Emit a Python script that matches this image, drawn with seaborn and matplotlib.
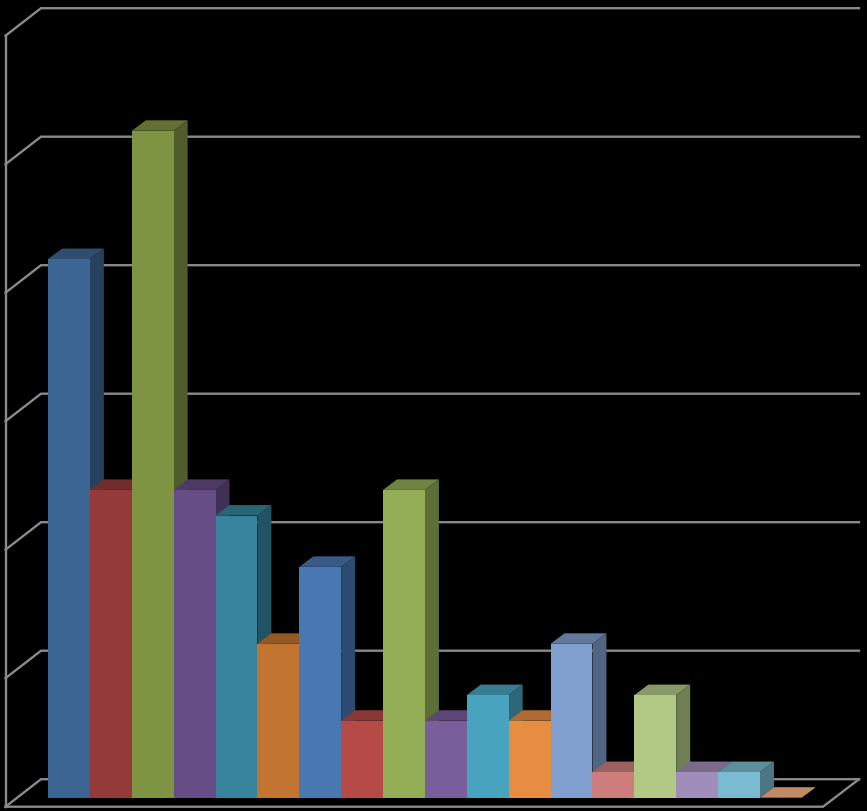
"""3D-look column chart on a black background, drawn with seaborn bars."""

import matplotlib.pyplot as plt
from matplotlib.colors import to_rgb
from matplotlib.patches import Polygon
import numpy as np
import seaborn as sns

categories = [f'c{i + 1}' for i in range(18)]
values = [21, 12, 26, 12, 11, 6, 9, 3, 12, 3, 4, 3, 6, 1, 4, 1, 1, 0]
bar_colors = ['#3c6594', '#953a3a', '#7f9443', '#664d85', '#37849c', '#c27530',
              '#4877b2', '#b64a47', '#93ae56', '#785e9b', '#48a3be', '#e68d41',
              '#809fcf', '#cd7e7c', '#b2c986', '#a08db9', '#7bbbd1', '#f0ad7d']
wall_levels = [0, 5, 10, 15, 20, 25, 30]

# pixel scale of the chart
PX_X = 41.88
PX_Y = 25.65
BASE_X = 48.0
BASE_Y = 797.7

# depth of a bar, depth of the walls
BAR_DX = 14 / PX_X
BAR_DY = 10.5 / PX_Y
WALL_LEFT = (5.5 - BASE_X) / PX_X - 0.5
WALL_BACK = (41 - BASE_X) / PX_X - 0.5
WALL_RIGHT = (859 - BASE_X) / PX_X - 0.5
FLOOR_RIGHT = (823 - BASE_X) / PX_X - 0.5
FRONT_OFFSET = -9 / PX_Y
BACK_OFFSET = 18.5 / PX_Y
WALL_STRETCH = 128.5 / (5 * PX_Y)
LINE_COLOR = '#8a8a8a'
LINE_WIDTH = 1.7

fig = plt.figure(figsize=(8.67, 8.11), dpi=100, facecolor='black')
ax = fig.add_axes([0, 0, 1, 1])
ax.set_facecolor('black')

sns.barplot(x=categories, y=values, hue=categories, palette=bar_colors,
            width=1, saturation=1, legend=False, linewidth=0, ax=ax)

# walls and floor
for level in wall_levels:
    wall_y = level * WALL_STRETCH
    ax.plot([WALL_LEFT, WALL_BACK, WALL_RIGHT],
            [wall_y + FRONT_OFFSET, wall_y + BACK_OFFSET, wall_y + BACK_OFFSET],
            color=LINE_COLOR, lw=LINE_WIDTH, zorder=1, solid_joinstyle='miter')
ax.plot([WALL_LEFT, WALL_LEFT], [FRONT_OFFSET, wall_levels[-1] * WALL_STRETCH + FRONT_OFFSET],
        color=LINE_COLOR, lw=LINE_WIDTH, zorder=1)
ax.plot([WALL_LEFT, FLOOR_RIGHT, WALL_RIGHT],
        [FRONT_OFFSET, FRONT_OFFSET, BACK_OFFSET],
        color=LINE_COLOR, lw=LINE_WIDTH, zorder=1, solid_joinstyle='miter')

# top and side faces, later bars cover earlier ones
bars = sorted(ax.patches, key=lambda p: p.get_x())
for i, bar in enumerate(bars):
    x0 = bar.get_x()
    x1 = x0 + bar.get_width()
    h = bar.get_height()
    rgb = np.array(to_rgb(bar_colors[i]))
    z = 3 + i
    bar.set_zorder(z + 0.5)
    if h > 0:
        top_color = rgb * 0.76
    else:
        top_color = rgb * 0.8
    ax.add_patch(Polygon([(x0, h), (x1, h), (x1 + BAR_DX, h + BAR_DY), (x0 + BAR_DX, h + BAR_DY)],
                         closed=True, facecolor=top_color, edgecolor='none', zorder=z))
    ax.add_patch(Polygon([(x1, 0), (x1, h), (x1 + BAR_DX, h + BAR_DY), (x1 + BAR_DX, BAR_DY)],
                         closed=True, facecolor=rgb * 0.63, edgecolor='none', zorder=z))

ax.set_xlim(-BASE_X / PX_X - 0.5, (867 - BASE_X) / PX_X - 0.5)
ax.set_ylim((BASE_Y - 811) / PX_Y, BASE_Y / PX_Y)
ax.axis('off')

plt.savefig('out.png', dpi=100, facecolor='black')
plt.close()
